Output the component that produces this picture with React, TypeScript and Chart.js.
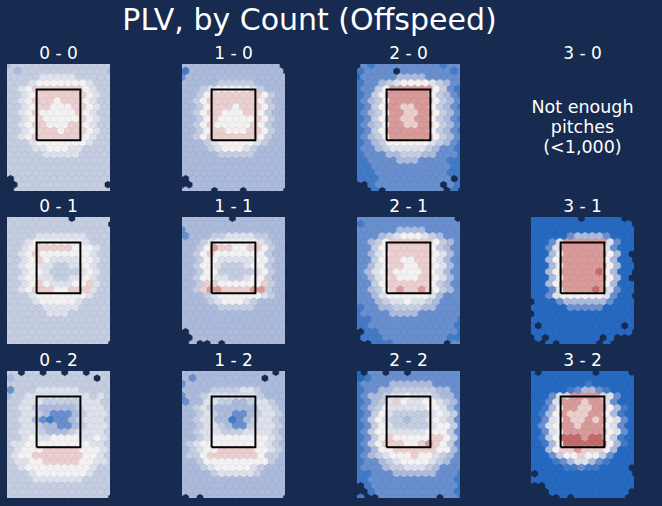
import React, { useEffect, useRef } from 'react';
import { Chart, registerables } from 'chart.js';

Chart.register(...registerables);

// Ball - strike counts, in panel order (4 across, 3 down)
const COUNTS = ['0 - 0', '1 - 0', '2 - 0', '3 - 0', '0 - 1', '1 - 1', '2 - 1', '3 - 1', '0 - 2', '1 - 2', '2 - 2', '3 - 2'];

// PLV per hexbin. One string per hex row (top row first),
// one char per hex: '0' = lowest PLV bin (blue) ... '9' = highest (red), '.' = no pitches
const PLV_0_0 = [
  '344444444444444',
  '434444444444443',
  '444445555544444',
  '444566666665444',
  '445677777776544',
  '445677777776544',
  '445677767776544',
  '445677666776544',
  '445676666676544',
  '445676666676544',
  '445677666776544',
  '445677767776544',
  '445677777776544',
  '444566666665444',
  '444455666554444',
  '444445555544444',
  '444444444444444',
  '444444444444444',
  '444444444444444',
  '.44444444444444',
  '..444444444444.',
  '.44444444444444',
];

const PLV_1_0 = [
  '33333333333333.',
  '13333333333333.',
  '233333333333333',
  '333334444433333',
  '333456666654333',
  '334677777776433',
  '334677777776433',
  '334677767776433',
  '334677666776433',
  '334676666676433',
  '334676666676433',
  '334677666776433',
  '334677777776433',
  '333456666654333',
  '333345666543333',
  '333334444433333',
  '333333333333333',
  '333333333333333',
  '333333333333333',
  '.33333333333333',
  '..3333333333333',
  '3333.333.33333.',
];

const PLV_2_0 = [
  '.21222222222122',
  '12222.222222212',
  '022222333322222',
  '122345666654322',
  '122468888886421',
  '124688888864321',
  '123468888886432',
  '124688778864321',
  '123468877886432',
  '124688778864321',
  '123468877886432',
  '124688888864321',
  '123468888886432',
  '123466666654321',
  '122345555543221',
  '122233444332221',
  '112222333222211',
  '112222222222211',
  '111222222222211',
  '1112222222222.1',
  '..1222222222.21',
  '..1.22222222.1.',
];

// 3 - 0: not enough pitches (<1,000)
const PLV_3_0: string[] | null = null;

const PLV_0_1 = [
  '444444444.44444',
  '44444444444444.',
  '444444444444444',
  '444455555554444',
  '444566666665444',
  '445677777666544',
  '445676666666544',
  '445676555566544',
  '445665544556544',
  '445665444456544',
  '445665544556544',
  '445676555667544',
  '445677766777544',
  '444566666665444',
  '444456666654444',
  '444445555544444',
  '444444555444444',
  '444444444444444',
  '444444444444444',
  '444444444444444',
  '444444444444444',
  '44444444444444.',
];

const PLV_1_1 = [
  '3333333.3333333',
  '333333333333333',
  '233333333333333',
  '233344555544333',
  '333456666665433',
  '334687766776433',
  '334676666666433',
  '334665555566433',
  '334665444566433',
  '334664444456433',
  '334665544566433',
  '334776666667433',
  '334788777788433',
  '333456666665433',
  '333345666543333',
  '333334444433333',
  '333333333333333',
  '333333333333333',
  '333333333333333',
  '.33333333333333',
  '..3333333333333',
  '.3..3.333333333',
];

const PLV_2_1 = [
  '22222222222222.',
  '122222222222222',
  '222222333322222',
  '222345666543222',
  '223467777776432',
  '224677777764322',
  '223567777776532',
  '224677667765322',
  '223567766776532',
  '235676666765322',
  '223567666776532',
  '224677777764322',
  '223467877876432',
  '223566666653222',
  '222345565543222',
  '122334444332222',
  '122223333222222',
  '112222222222221',
  '112222222222221',
  '.11222222222221',
  '.11122222222211',
  '..1112222222.22',
];

const PLV_3_1 = [
  '0000000.00000..',
  '00000000000000.',
  '000000000000000',
  '000002333320000',
  '000258888885200',
  '002588888852000',
  '00036888888630.',
  '00368888886300.',
  '000368888886300',
  '00368888896300.',
  '00036888888630.',
  '003688888863000',
  '000258888985200',
  '00256666665200.',
  '.00023333332000',
  '000002222200000',
  '.00000000000000',
  '000000000000000',
  '0.00000000000.0',
  '00000000000000.',
  '.0.0000000.0...',
  '..0.00000.0....',
];

const PLV_0_2 = [
  '44.44.44.44.444',
  '344444444444.44',
  '444444444444444',
  '244455555544444',
  '344555555555454',
  '445554444455544',
  '445543333345554',
  '445543222345554',
  '445532122345554',
  '445543322345554',
  '445554333455554',
  '445655666655654',
  '455666666666554',
  '456667777766654',
  '456677777776654',
  '455667777766554',
  '445666666666544',
  '444566666665444',
  '444455555554444',
  '444444444444444',
  '444444444444444',
  '44444444444444.',
];

const PLV_1_2 = [
  '3333333333333.3',
  '32333333333.333',
  '233333333333333',
  '333344445543333',
  '233455555554333',
  '233554433455433',
  '334543333335543',
  '334543322345543',
  '334553312345543',
  '334554322455543',
  '334555444555543',
  '334566666666543',
  '345666666666543',
  '345667777766543',
  '344677777776443',
  '334666666666433',
  '333456666654333',
  '333345555543333',
  '333333333333333',
  '333333333333333',
  '333333333333333',
  '.3.33333333333.',
];

const PLV_2_2 = [
  '0.22.22.2222222',
  '012222222222222',
  '122223333332222',
  '122334444443322',
  '123345565554332',
  '123457655665432',
  '123465555566532',
  '124654444456542',
  '124654434456542',
  '124654444456642',
  '124665555566642',
  '124676666677642',
  '124677766787642',
  '123667777776632',
  '123456667665432',
  '122345666654322',
  '122234455543222',
  '112223333332221',
  '112222222222221',
  '.12222222222221',
  '..1222222222221',
  '1..22222222.221',
];

const PLV_3_2 = [
  '0.0000000.0000.',
  '000000000000000',
  '000000001000000',
  '000001233210000',
  '000257888875200',
  '002588878852000',
  '001368877886310',
  '013687778863100',
  '002568778786520',
  '025688788865200',
  '002568888886520',
  '014699989964100',
  '001369999996310',
  '003677877763000',
  '000246676642000',
  '000123553210000',
  '00000112110000.',
  '.0000000000000.',
  '000000000000000',
  '..0000000000000',
  '...00000000000.',
  '....0.0000000..',
];

const PLV_GRIDS = [
  PLV_0_0, PLV_1_0, PLV_2_0, PLV_3_0,
  PLV_0_1, PLV_1_1, PLV_2_1, PLV_3_1,
  PLV_0_2, PLV_1_2, PLV_2_2, PLV_3_2,
];

// strike zone (ft)
const ZONE_X = [-0.85, 0.85];
const ZONE_Z = [1.5, 3.5];

// plot window and hex lattice (ft)
const X_MIN = -2;
const X_MAX = 2;
const Z_MIN = -0.5;
const Z_MAX = 4.5;
const HEX_DX = 0.28;
const HEX_DZ = 0.235;
const TOP_Z = 4.45;

// vlag-like colours for PLV bins 0..9
const LEVEL_COLORS = [
  '#2669c0', '#427ac6', '#698fce', '#acbadb', '#c5cde1',
  '#dde1eb', '#f4f1f2', '#ebcfce', '#d99b99', '#c36a6a',
];

const BG = '#172a4f';
const FONT = '"DejaVu Sans", sans-serif';

const COL_LEFT = [7, 182, 357, 531];
const ROW_TOP = [64, 217, 371];
const PANEL_W = 103;
const PANEL_H = 127;

function hexPoints(grid: string[]) {
  const pts: { x: number; y: number; v: number }[] = [];
  grid.forEach((row, r) => {
    const z = TOP_Z - r * HEX_DZ;
    const x0 = X_MIN + (r % 2 ? HEX_DX / 2 : 0);
    row.split('').forEach((ch, c) => {
      if (ch === '.') return;
      pts.push({ x: x0 + c * HEX_DX, y: z, v: Number(ch) });
    });
  });
  return pts;
}

// draws each hexbin point as a pointy-top hexagon, sized through the chart's scales
const hexbinPlugin = {
  id: 'hexbin',
  beforeDatasetsDraw(chart: any) {
    const { ctx, chartArea: a, scales } = chart;
    const xs = scales.x;
    const ys = scales.y;
    chart.data.datasets.forEach((ds: any) => {
      if (!ds.hexbin) return;
      ctx.save();
      ctx.beginPath();
      ctx.rect(a.left, a.top, a.right - a.left, a.bottom - a.top);
      ctx.clip();
      for (const p of ds.data) {
        const cx = xs.getPixelForValue(p.x);
        const cy = ys.getPixelForValue(p.y);
        const hw = xs.getPixelForValue(p.x + HEX_DX / 2) - cx;
        const tip = cy - ys.getPixelForValue(p.y + (2 * HEX_DZ) / 3);
        const sh = tip / 2;
        ctx.beginPath();
        ctx.moveTo(cx, cy - tip);
        ctx.lineTo(cx + hw, cy - sh);
        ctx.lineTo(cx + hw, cy + sh);
        ctx.lineTo(cx, cy + tip);
        ctx.lineTo(cx - hw, cy + sh);
        ctx.lineTo(cx - hw, cy - sh);
        ctx.closePath();
        ctx.fillStyle = LEVEL_COLORS[p.v];
        ctx.strokeStyle = LEVEL_COLORS[p.v];
        ctx.lineWidth = 0.6;
        ctx.fill();
        ctx.stroke();
      }
      ctx.restore();
    });
  },
};

const HexPanel: React.FC<{ grid: string[] }> = ({ grid }) => {
  const canvasRef = useRef<HTMLCanvasElement | null>(null);

  useEffect(() => {
    if (!canvasRef.current) return;
    const ctx = canvasRef.current.getContext('2d');
    if (!ctx) return;

    const zone = [
      { x: ZONE_X[0], y: ZONE_Z[0] },
      { x: ZONE_X[1], y: ZONE_Z[0] },
      { x: ZONE_X[1], y: ZONE_Z[1] },
      { x: ZONE_X[0], y: ZONE_Z[1] },
      { x: ZONE_X[0], y: ZONE_Z[0] },
    ];

    const chart = new Chart(ctx, {
      type: 'scatter',
      data: {
        datasets: [
          {
            label: 'Strike zone',
            data: zone,
            showLine: true,
            borderColor: '#000000',
            borderWidth: 2,
            borderJoinStyle: 'miter',
            pointRadius: 0,
            order: 0,
          },
          {
            label: 'PLV',
            data: hexPoints(grid),
            pointRadius: 0,
            pointHoverRadius: 0,
            hexbin: true,
            order: 1,
          } as any,
        ],
      },
      options: {
        responsive: false,
        animation: false,
        events: [],
        layout: { padding: 0 },
        scales: {
          x: { type: 'linear', min: X_MIN, max: X_MAX, display: false },
          y: { type: 'linear', min: Z_MIN, max: Z_MAX, display: false },
        },
        plugins: {
          legend: { display: false },
          tooltip: { enabled: false },
        },
      },
      plugins: [hexbinPlugin],
    });

    return () => {
      chart.destroy();
    };
  }, [grid]);

  return <canvas ref={canvasRef} width={PANEL_W} height={PANEL_H} />;
};

export default function App() {
  return (
    <div
      style={{
        position: 'fixed',
        left: 0,
        top: 0,
        width: 662,
        height: 506,
        background: BG,
        color: '#ffffff',
        fontFamily: FONT,
        overflow: 'hidden',
      }}
    >
      <div
        style={{
          position: 'absolute',
          left: 0,
          top: 5,
          width: 619,
          fontSize: 30,
          lineHeight: '30px',
          textAlign: 'center',
          whiteSpace: 'nowrap',
        }}
      >
        PLV, by Count (Offspeed)
      </div>
      {COUNTS.map((count, i) => {
        const left = COL_LEFT[i % 4];
        const top = ROW_TOP[Math.floor(i / 4)];
        const grid = PLV_GRIDS[i];
        return (
          <React.Fragment key={count}>
            <div
              style={{
                position: 'absolute',
                left: left - 20,
                top: top - 19.5,
                width: PANEL_W + 40,
                fontSize: 17,
                lineHeight: '17px',
                textAlign: 'center',
                whiteSpace: 'nowrap',
              }}
            >
              {count}
            </div>
            {grid ? (
              <div style={{ position: 'absolute', left, top, width: PANEL_W, height: PANEL_H }}>
                <HexPanel grid={grid} />
              </div>
            ) : (
              <div
                style={{
                  position: 'absolute',
                  left: left - 20,
                  top: top + 32.5,
                  width: PANEL_W + 40,
                  fontSize: 17.5,
                  lineHeight: '20.2px',
                  textAlign: 'center',
                  whiteSpace: 'nowrap',
                }}
              >
                Not enough
                <br />
                pitches
                <br />
                (&lt;1,000)
              </div>
            )}
          </React.Fragment>
        );
      })}
    </div>
  );
}
